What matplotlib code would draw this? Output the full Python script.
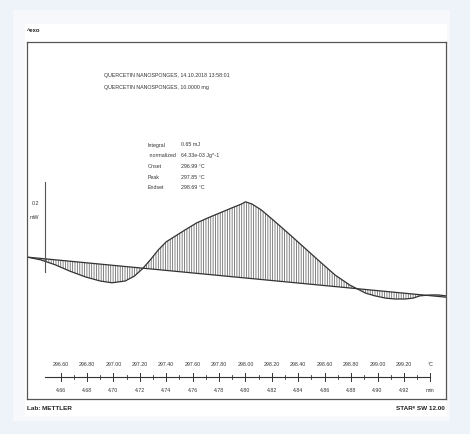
import matplotlib
matplotlib.use("Agg")
import matplotlib.pyplot as plt
from matplotlib.patches import Rectangle
import numpy as np

plt.rcParams['font.family'] = ['Liberation Sans Narrow', 'Liberation Sans', 'DejaVu Sans']
plt.rcParams['hatch.linewidth'] = 0.6

# DSC curve (sample temperature in degC, heat flow in mW)
temp = [296.35, 296.45, 296.56, 296.67, 296.79, 296.90, 296.99, 297.09, 297.16, 297.22,
        297.28, 297.34, 297.40, 297.47, 297.54, 297.63, 297.73, 297.82, 297.91, 297.97,
        298.00, 298.05, 298.12, 298.22, 298.34, 298.45, 298.56, 298.68, 298.79, 298.85,
        298.91, 298.98, 299.06, 299.13, 299.21, 299.27, 299.32, 299.40, 299.46, 299.52]
heat_flow = [0.093, 0.087, 0.076, 0.062, 0.049, 0.040, 0.036, 0.040, 0.051, 0.067,
             0.087, 0.109, 0.127, 0.140, 0.153, 0.169, 0.182, 0.193, 0.204, 0.211,
             0.216, 0.211, 0.198, 0.173, 0.142, 0.113, 0.084, 0.053, 0.031, 0.022,
             0.013, 0.007, 0.002, 0.000, 0.000, 0.002, 0.007, 0.009, 0.009, 0.007]

# integration baseline end points
base_temp = [296.35, 299.52]
base_hf = [0.093, 0.004]

# abscissa scales
temp_ticks = [296.60, 296.80, 297.00, 297.20, 297.40, 297.60, 297.80,
              298.00, 298.20, 298.40, 298.60, 298.80, 299.00, 299.20]
time_ticks = [4.66, 4.68, 4.70, 4.72, 4.74, 4.76, 4.78,
              4.80, 4.82, 4.84, 4.86, 4.88, 4.90, 4.92]

sample_lines = ["QUERCETIN NANOSPONGES, 14.10.2018 13:58:01",
                "QUERCETIN NANOSPONGES, 10.0000 mg"]
result_names = ["Integral", " normalized", "Onset", "Peak", "Endset"]
result_values = ["0.65 mJ", "64.33e-03 Jg^-1", "296.99 °C", "297.85 °C", "298.69 °C"]

W, H = 470, 435
fig = plt.figure(figsize=(W / 100, H / 100), dpi=100)
fig.patch.set_facecolor('#eef2f9')


def fx(px):
    return px / W


def fy(py):
    return 1 - py / H


def box(x0, y0, x1, y1, **kw):
    fig.patches.append(Rectangle((fx(x0), fy(y1)), fx(x1) - fx(x0), fy(y0) - fy(y1),
                                 transform=fig.transFigure, zorder=-5, **kw))


box(13, 11, 450, 422, facecolor='#f6f8fc', edgecolor='none')
box(25, 25, 447, 417, facecolor='white', edgecolor='none')

fig.text(fx(27), fy(30), "^exo", fontsize=4.2, va='center', weight='bold', color='#222222')
fig.text(fx(27), fy(409), "Lab: METTLER", fontsize=4.6, va='center', weight='bold', color='#222222')
fig.text(fx(445), fy(409), "STARᵉ SW 12.00", fontsize=4.6, va='center', ha='right',
         weight='bold', color='#222222')

# plot frame
ax = fig.add_axes([fx(27), fy(400), fx(446) - fx(27), fy(43) - fy(400)])
ax.set_facecolor('white')
px_c = 132.1          # pixels per degC
px_mw = 450.0         # pixels per mW
x_lo = 296.60 - (60.5 - 27) / px_c
x_hi = 296.60 + (446 - 60.5) / px_c
ax.set_xlim(x_lo, x_hi)
ax.set_ylim((300 - 400) / px_mw, (300 - 43) / px_mw)
ax.set_xticks([])
ax.set_yticks([])
for s in ax.spines.values():
    s.set_color('#555555')
    s.set_linewidth(0.9)

temp_a = np.array(temp)
hf_a = np.array(heat_flow)
base_a = np.interp(temp_a, base_temp, base_hf)
ax.fill_between(temp_a, hf_a, base_a, facecolor='none', edgecolor='#6e6e6e',
                hatch='|||||||', linewidth=0)
ax.plot(temp, heat_flow, color='#333333', lw=0.9)
ax.plot(base_temp, base_hf, color='#333333', lw=0.9)

txt = dict(fontsize=3.8, va='center', color='#333333')

# 0.2 mW scale bar
bar_t = 296.48
bar_top = (300 - 183) / px_mw
ax.plot([bar_t, bar_t], [bar_top - 0.2, bar_top], color='#555555', lw=0.8)
ax.text(bar_t - 0.04, (300 - 204) / px_mw, "0.2", ha='right', **txt)
ax.text(bar_t - 0.04, (300 - 218) / px_mw, "mW", ha='right', **txt)

# sample description and evaluation results
for i, line in enumerate(sample_lines):
    ax.text(296.60 + (104 - 60.5) / px_c, (300 - 76 - 12 * i) / px_mw, line, **txt)
for i, (n, v) in enumerate(zip(result_names, result_values)):
    yy = (300 - 145 - 10.7 * i) / px_mw
    ax.text(296.60 + (148 - 60.5) / px_c, yy, n, **txt)
    ax.text(296.60 + (181 - 60.5) / px_c, yy, v, **txt)

# combined temperature / time axis
axis_y = (300 - 378) / px_mw
tick = 4 / px_mw
ax.plot([296.48, 299.40], [axis_y, axis_y], color='#333333', lw=0.8)
step = temp_ticks[1] - temp_ticks[0]
for t in temp_ticks + [299.40]:
    ax.plot([t, t], [axis_y - tick, axis_y + tick], color='#333333', lw=0.7)
for t in temp_ticks:
    ax.plot([t + step / 2] * 2, [axis_y - tick / 2, axis_y + tick / 2], color='#333333', lw=0.6)
for t, tm in zip(temp_ticks, time_ticks):
    ax.text(t, (300 - 365) / px_mw, f"{t:.2f}", ha='center', **txt)
    ax.text(t, (300 - 391) / px_mw, f"{tm:.2f}", ha='center', **txt)
ax.text(299.40, (300 - 365) / px_mw, "°C", ha='center', **txt)
ax.text(299.40, (300 - 391) / px_mw, "min", ha='center', **txt)

fig.savefig("out.png", dpi=100, facecolor=fig.get_facecolor())
